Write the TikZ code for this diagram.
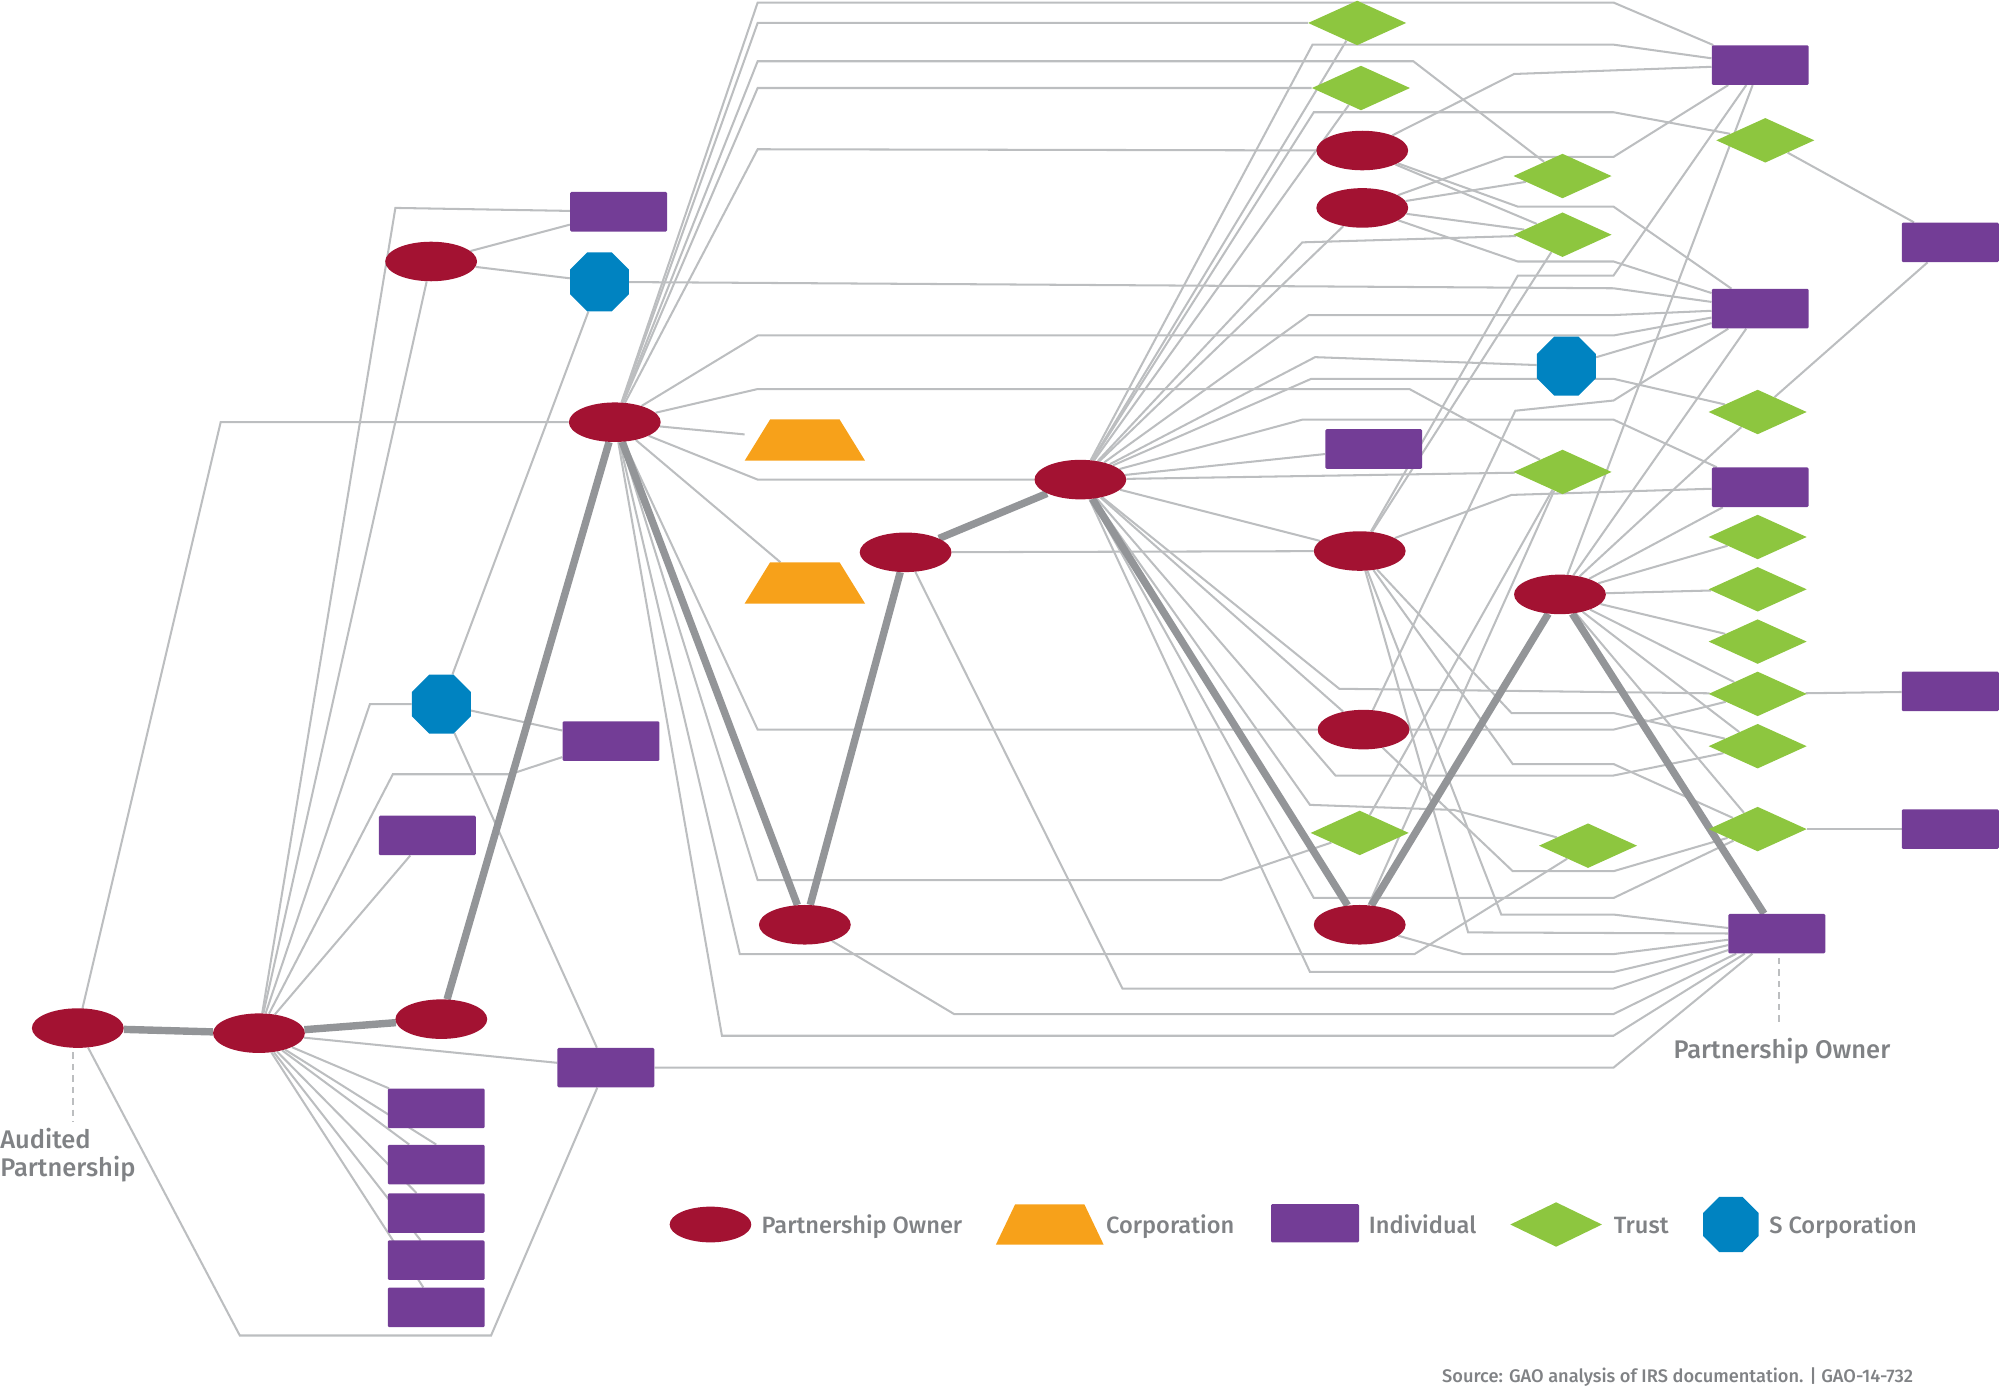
\documentclass[tikz,border=0pt]{standalone}
\usepackage{fontspec}
\IfFontExistsTF{Fira Sans Medium}{\setmainfont{Fira Sans Medium}}{\setmainfont{Fira Sans}[UprightFeatures={FakeBold=1.2}]}
\usetikzlibrary{shapes.geometric,backgrounds}
\definecolor{ownerred}{RGB}{163,18,50}
\definecolor{indivpurple}{RGB}{115,61,150}
\definecolor{trustgreen}{RGB}{141,198,63}
\definecolor{scorpblue}{RGB}{0,131,193}
\definecolor{corporange}{RGB}{247,161,26}
\definecolor{wiregray}{RGB}{188,190,192}
\definecolor{heavygray}{RGB}{147,149,152}
\definecolor{textgray}{RGB}{128,130,133}

\begin{document}
\begin{tikzpicture}[x=1pt,y=-1pt]
\tikzstyle{owner}=[ellipse, fill=ownerred, minimum width=72pt, minimum height=31pt, inner sep=0pt]
\tikzstyle{indiv}=[rectangle, rounded corners=1pt, fill=indivpurple, minimum width=76pt, minimum height=31pt, inner sep=0pt]
\tikzstyle{trust}=[diamond, aspect=2.2, fill=trustgreen, minimum width=77pt, minimum height=35pt, inner sep=0pt]
\tikzstyle{scorp}=[regular polygon, regular polygon sides=8, fill=scorpblue, minimum size=50pt, inner sep=0pt]
\tikzstyle{corp}=[rectangle, minimum width=94pt, minimum height=32pt, inner sep=0pt]
\tikzstyle{wire}=[draw=wiregray, line width=1.6pt]
\tikzstyle{heavy}=[draw=heavygray, line width=5.8pt]
\tikzstyle{tick}=[draw=wiregray, line width=1.6pt, dash pattern=on 5pt off 4pt]
\tikzstyle{lbl}=[text=textgray, inner sep=0pt, font=\fontsize{20}{22}\selectfont]
\tikzstyle{key}=[text=textgray, inner sep=0pt, anchor=base west, font=\fontsize{18.5}{20}\selectfont]
\useasboundingbox (0,0) rectangle (1568,1088);

% partnership owners
\node[owner] (aud) at (61,806) {};
\node[owner] (pa) at (203,810) {};
\node[owner] (pb) at (346,799) {};
\node[owner] (pc) at (338,205) {};
\node[owner] (pd) at (482,331) {};
\node[owner] (pe) at (631,725) {};
\node[owner] (pf) at (710,433) {};
\node[owner] (pg) at (847,376) {};
\node[owner] (ph) at (1068,118) {};
\node[owner] (pi) at (1068,163) {};
\node[owner] (pj) at (1066,432) {};
\node[owner] (pk) at (1069,572) {};
\node[owner] (pl) at (1066,725) {};
\node[owner] (pm) at (1223,466) {};
% individuals
\node[indiv] (ia) at (485,166) {};
\node[indiv] (ib) at (479,581) {};
\node[indiv] (ic) at (335,655) {};
\node[indiv] (id) at (475,837) {};
\foreach \n/\y in {1/869,2/913,3/951,4/988,5/1025}
    \node[indiv] (ie\n) at (342,\y) {};
\node[indiv] (ig) at (1077,352) {};
\node[indiv] (ih) at (1380,51) {};
\node[indiv] (ii) at (1380,242) {};
\node[indiv] (ij) at (1380,382) {};
\node[indiv] (ik) at (1529,190) {};
\node[indiv] (il) at (1529,542) {};
\node[indiv] (im) at (1529,650) {};
\node[indiv] (own) at (1393,732) {};
% s corporations and corporations
\node[scorp] (sa) at (470,221) {};
\node[scorp] (sb) at (346,552) {};
\node[scorp] (sc) at (1228,287) {};
\node[corp] (ca) at (631,345) {};
\node[corp] (cb) at (631,457) {};
\foreach \c in {ca,cb}
    \fill[corporange] (\c.south west) -- (\c.south east) -- ([xshift=-20pt]\c.north east) -- ([xshift=20pt]\c.north west) -- cycle;
% trusts
\node[trust] (ta) at (1064,18) {};
\node[trust] (tb) at (1067,69) {};
\node[trust] (tc) at (1225,138) {};
\node[trust] (td) at (1225,184) {};
\node[trust] (te) at (1384,110) {};
\node[trust] (tf) at (1378,323) {};
\node[trust] (tg) at (1225,370) {};
\foreach \n/\y in {1/421,2/462,3/503,4/544,5/585,6/650}
    \node[trust] (tr\n) at (1378,\y) {};
\node[trust] (tn) at (1066,653) {};
\node[trust] (to) at (1245,663) {};

\begin{scope}[on background layer]
\foreach \a/\b in {pc/ia,pc/sa,pc/pa,sa/sb,sb/ib,sb/id,pa/ic,pa/id,pd/ca,pd/cb,pf/pj,pg/ta,pg/tb,pg/pi,pg/ig,pg/tg,pg/pj,pg/pk,ph/td,pi/tc,pi/td,td/pj,tn/tg,pl/tg,sc/ii,ih/pm,ii/pm,tf/pm,ij/pm,te/ik,tf/ik,tr4/il,tr6/im}
    \draw[wire] (\a) -- (\b);
\foreach \n in {1,...,5}
    \draw[wire] (pa) -- (ie\n);
\draw[wire] (pa) -- (ie2.north);
\foreach \n in {1,...,6}
    \draw[wire] (pm) -- (tr\n);
\draw[wire] (aud) -- (173,331) -- (pd);
\draw[wire] (aud) -- (188,1047) -- (385,1047) -- (id);
\draw[wire] (pa) -- (310,163) -- (ia);
\draw[wire] (pa) -- (290,552) -- (sb);
\draw[wire] (pa) -- (308,607) -- (400,607) -- (ib);
\draw[wire] (sa) -- (1265,226) -- (ii);
% fan out of pd
\foreach \y/\t in {18/ta,69/tb,117/ph,376/pg,572/pk}
    \draw[wire] (pd) -- (594,\y) -- (\t);
\foreach \y/\x/\t in {2/1265/ih,48/1108/tc,263/1265/ii,305/1105/tg}
    \draw[wire] (pd) -- (594,\y) -- (\x,\y) -- (\t);
\draw[wire] (pd) -- (594,690) -- (957,690) -- (tn);
\draw[wire] (pd) -- (580,748) -- (1109,748) -- (to);
% fan out of pg
\foreach \x/\y/\t in {1021/190/td,1031/280/sc,1050/540/tr4}
    \draw[wire] (pg) -- (\x,\y) -- (\t);
\foreach \x/\y/\t in {1029/35/ih,1030/88/te,1026/247/ii,1028/297/tf,1021/329/ij,1047/608/tr5,1030/704/tr6}
    \draw[wire] (pg) -- (\x,\y) -- (1265,\y) -- (\t);
\draw[wire] (pg) -- (1027,631) -- (1140,635) -- (to);
% into the audited owner
\foreach \a/\x/\y in {pd/566/812,pe/748/795,pf/880/775,pg/1027/762,pl/1147/748,pj/1177/717}
    \draw[wire] (\a) -- (\x,\y) -- (1265,\y) -- (own);
\draw[wire] (id) -- (1265,837) -- (own);
\draw[wire] (pj) -- (1151,731) -- (own);
% right side
\draw[wire] (ph) -- (1187,58) -- (ih);
\draw[wire] (ph) -- (1190,162) -- (1265,162) -- (ii);
\draw[wire] (pi) -- (1180,123) -- (1265,123) -- (ih);
\draw[wire] (pi) -- (1190,205) -- (1265,205) -- (ii);
\draw[wire] (pj) -- (1185,388) -- (ij);
\draw[wire] (pj) -- (1185,559) -- (1265,559) -- (tr5);
\draw[wire] (pj) -- (1186,599) -- (1265,599) -- (tr6);
\draw[wire] (pk) -- (1265,572) -- (tr4);
\draw[wire] (pk) -- (1186,683) -- (1265,683) -- (tr6);
\draw[wire] (ih) -- (1265,216) -- (1190,216) -- (pj);
\draw[wire] (ii) -- (1265,314) -- (1188,322) -- (pk);
% ownership chain
\draw[heavy] (aud) -- (pa) -- (pb) -- (pd) -- (pe) -- (pf) -- (pg) -- (pl) -- (pm) -- (own);
\end{scope}

% labels
\node[lbl, anchor=north west, align=left] (audlbl) at (0,884) {Audited\\Partnership};
\node[lbl, anchor=base] (ownlbl) at (1397,830) {Partnership Owner};
\coordinate (audend) at (57,880);
\coordinate (ownend) at (1395,801);
\draw[tick] (57,825) -- (audend);
\draw[tick] (1395,751) -- (ownend);

% legend
\node[owner, minimum width=64pt, minimum height=28pt] (kown) at (557,960) {};
\node[key] (kownt) at (597,967) {Partnership Owner};
\node[corp, minimum width=84pt, minimum height=31pt] (kcorp) at (823,960) {};
\fill[corporange] (kcorp.south west) -- (kcorp.south east) -- ([xshift=-15pt]kcorp.north east) -- ([xshift=15pt]kcorp.north west) -- cycle;
\node[key] (kcorpt) at (867,967) {Corporation};
\node[indiv, minimum width=69pt, minimum height=30pt] (kind) at (1031,959) {};
\node[key] (kindt) at (1073,967) {Individual};
\node[trust, minimum width=72pt, minimum height=35pt] (ktr) at (1220,960) {};
\node[key] (ktrt) at (1265,967) {Trust};
\node[scorp, minimum size=47pt] (ksc) at (1357,960) {};
\node[key] (ksct) at (1387,967) {S Corporation};

\node[text=textgray, inner sep=0pt, anchor=base east, font=\fontsize{14.3}{16}\selectfont] (src) at (1500,1084) {Source: GAO analysis of IRS documentation. | GAO-14-732};
\end{tikzpicture}
\end{document}
